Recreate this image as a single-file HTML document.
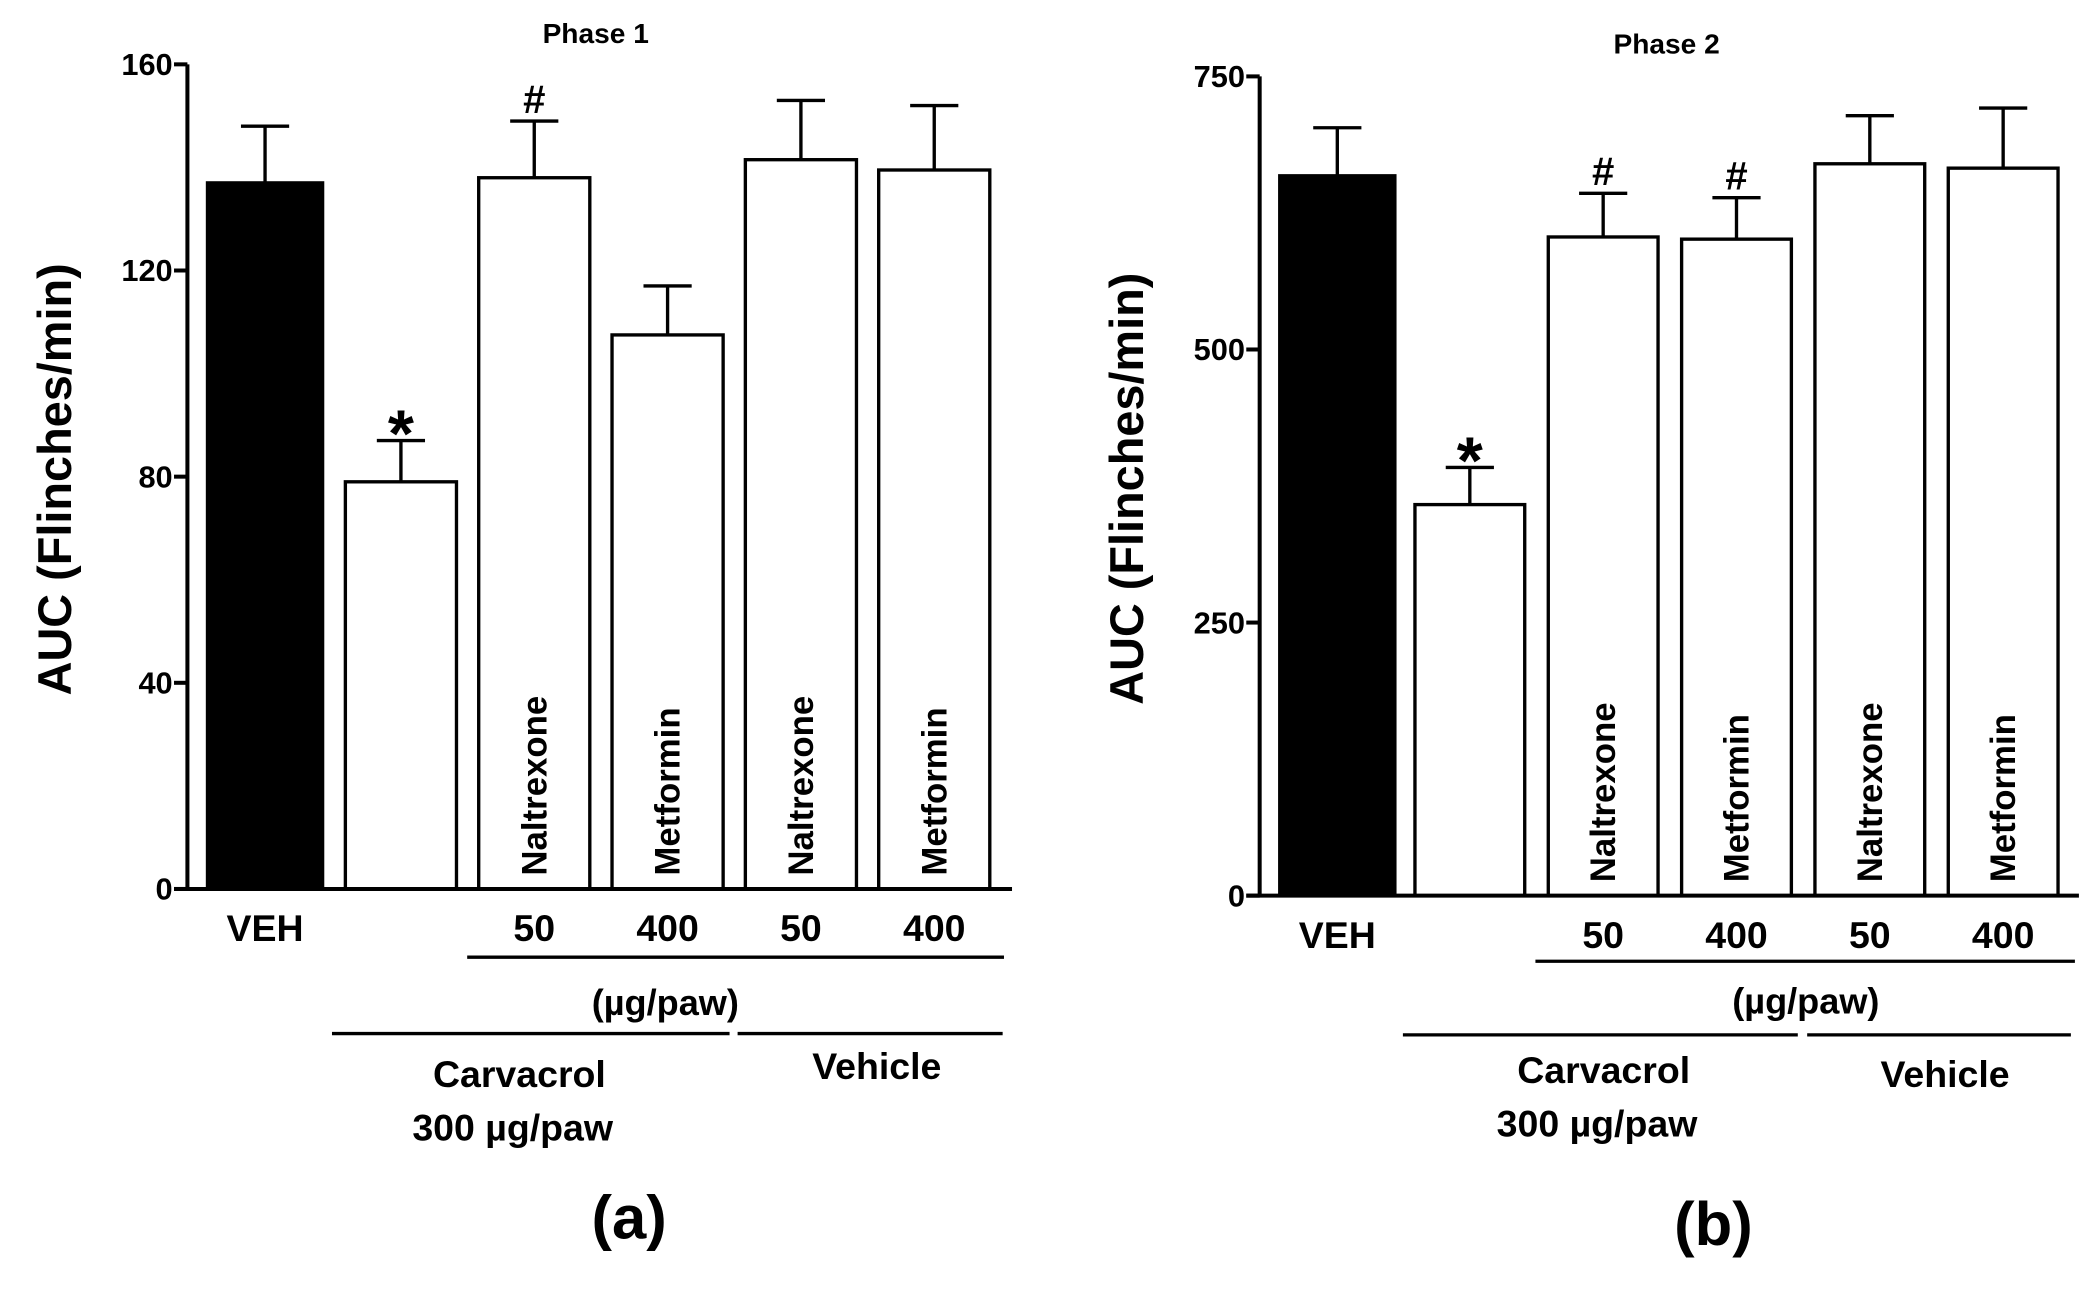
<!DOCTYPE html>
<html><head><meta charset="utf-8"><style>
html,body{margin:0;padding:0;background:#fff}
svg{display:block}
text{font-family:"Liberation Sans",Arial,sans-serif;fill:#000;font-weight:bold}
</style></head><body>
<svg id="chart" width="2099" height="1296" viewBox="0 0 1568 968">
</svg>
<script>
const categories=["VEH","Carvacrol","Carvacrol+Naltrexone 50","Carvacrol+Metformin 400","Naltrexone 50","Metformin 400"];
const inBarLabels=["","","Naltrexone","Metformin","Naltrexone","Metformin"];
const doseLabels=["VEH","","50","400","50","400"];
const phase1Values=[137,79,138,107.5,141.5,139.5];
const phase1Errors=[11,8,11,9.5,11.5,12.5];
const phase1Marks=["","*","#","","",""];
const phase1Ticks=[0,40,80,120,160];
const phase2Values=[659,358,603,601,670,666];
const phase2Errors=[44,34,40,38,44,55];
const phase2Marks=["","*","#","#","",""];
const phase2Ticks=[0,250,500,750];

const NS="http://www.w3.org/2000/svg";
const svg=document.getElementById('chart');
function mk(tag,attrs,parent,txt){const e=document.createElementNS(NS,tag);for(const k in attrs)e.setAttribute(k,attrs[k]);if(txt!==undefined)e.textContent=txt;(parent||svg).appendChild(e);return e;}

function panel(cfg){
  const g=mk('g',{});
  
  
  const y=v=>cfg.y0-(v/cfg.max)*(cfg.y0-cfg.yTop);
  cfg.values.forEach((v,i)=>{
    const w=i==0?cfg.w0:cfg.w;
    const bx=i==0?cfg.ax+cfg.gap0:cfg.start1+(i-1)*cfg.step;
    const top=y(v), et=y(v+cfg.errs[i]);
    const cx=bx+w/2;
    const eb=mk('line',{x1:cx,x2:cx,y1:top,y2:et,stroke:'#000','stroke-width':2.5},g);
    
    
    const cap=mk('line',{x1:cx-18,x2:cx+18,y1:et,y2:et,stroke:'#000','stroke-width':2.5},g);
    
    
    const r=mk('rect',{x:bx,y:top,width:w,height:cfg.y0-top,fill:i==0?'#000':'#fff',stroke:'#000','stroke-width':2.5},g);
    
    
    if(inBarLabels[i]){
      const t=mk('text',{transform:`translate(${cx+9},${cfg.y0-10}) rotate(-90)`,'font-size':26},g,inBarLabels[i]);
      
      
    }
    if(cfg.marks[i]){
      const star=cfg.marks[i]=='*';
      const m=mk('text',{x:cx,y:star?et+12:et-6,'text-anchor':'middle','font-size':star?50:30},g,cfg.marks[i]);
      
      
    }
    const d=mk('text',{x:cx,y:cfg.y0+39,'text-anchor':'middle','font-size':28},g,doseLabels[i]);
    
    
  });
  const ya=mk('line',{x1:cfg.ax,x2:cfg.ax,y1:cfg.yTop,y2:cfg.y0+1,stroke:'#000','stroke-width':3},g);
  
  const xa=mk('line',{x1:cfg.ax-10,x2:cfg.axEnd,y1:cfg.y0,y2:cfg.y0,stroke:'#000','stroke-width':3},g);
  
  cfg.ticks.forEach(t=>{
    const tl=mk('line',{x1:cfg.ax-10,x2:cfg.ax,y1:y(t),y2:y(t),stroke:'#000','stroke-width':3},g);
    
    const tt=mk('text',{x:cfg.ax-11,y:y(t)+8,'text-anchor':'end','font-size':23,'font-weight':'normal'},g,t);
    
  });
  const yt=mk('text',{transform:`translate(${cfg.ax-87},${(cfg.y0+cfg.yTop)/2+2}) rotate(-90)`,'text-anchor':'middle','font-size':35},g,'AUC (Flinches/min)');
  
  const ti=mk('text',{x:cfg.titleX,y:cfg.titleY,'text-anchor':'middle','font-size':21},g,cfg.title);
  
  const L=cfg.lines;
  [[L.dose,'dose-group-line'],[L.carv,'carvacrol-group-line'],[L.veh,'vehicle-group-line']].forEach(([l,n])=>{
    const e=mk('line',{x1:l[0],x2:l[1],y1:l[2],y2:l[2],stroke:'#000','stroke-width':2.5},g);
    
  });
  cfg.texts.forEach(([s,x,yy,fs,n])=>{
    const e=mk('text',{x:x,y:yy,'text-anchor':'middle','font-size':fs},g,s);
    
  });
}

panel({name:'panel-a',ax:140,axEnd:756,y0:664,yTop:48,max:160,gap0:15,start1:258,step:99.6,w0:86,w:83,
  values:phase1Values,errs:phase1Errors,marks:phase1Marks,ticks:phase1Ticks,title:'Phase 1',titleX:445,titleY:32,
  lines:{dose:[349,750,715],carv:[248,545,772],veh:[551,749,772]},
  texts:[['(µg/paw)',497,758,27,'unit-label'],['Carvacrol',388,812,28,'carvacrol-label'],['300 µg/paw',383,852,28,'carvacrol-dose-label'],['Vehicle',655,806,28,'vehicle-label'],['(a)',470,925,46,'panel-a-label']]});
panel({name:'panel-b',ax:941,axEnd:1553,y0:669,yTop:57,max:750,gap0:15,start1:1057,step:99.6,w0:86,w:82,
  values:phase2Values,errs:phase2Errors,marks:phase2Marks,ticks:phase2Ticks,title:'Phase 2',titleX:1245,titleY:40,
  lines:{dose:[1147,1550,718],carv:[1048,1343,773],veh:[1350,1547,773]},
  texts:[['(µg/paw)',1349,757,27,'unit-label'],['Carvacrol',1198,809,28,'carvacrol-label'],['300 µg/paw',1193,849,28,'carvacrol-dose-label'],['Vehicle',1453,812,28,'vehicle-label'],['(b)',1280,930,46,'panel-b-label']]});
</script>
</body></html>
